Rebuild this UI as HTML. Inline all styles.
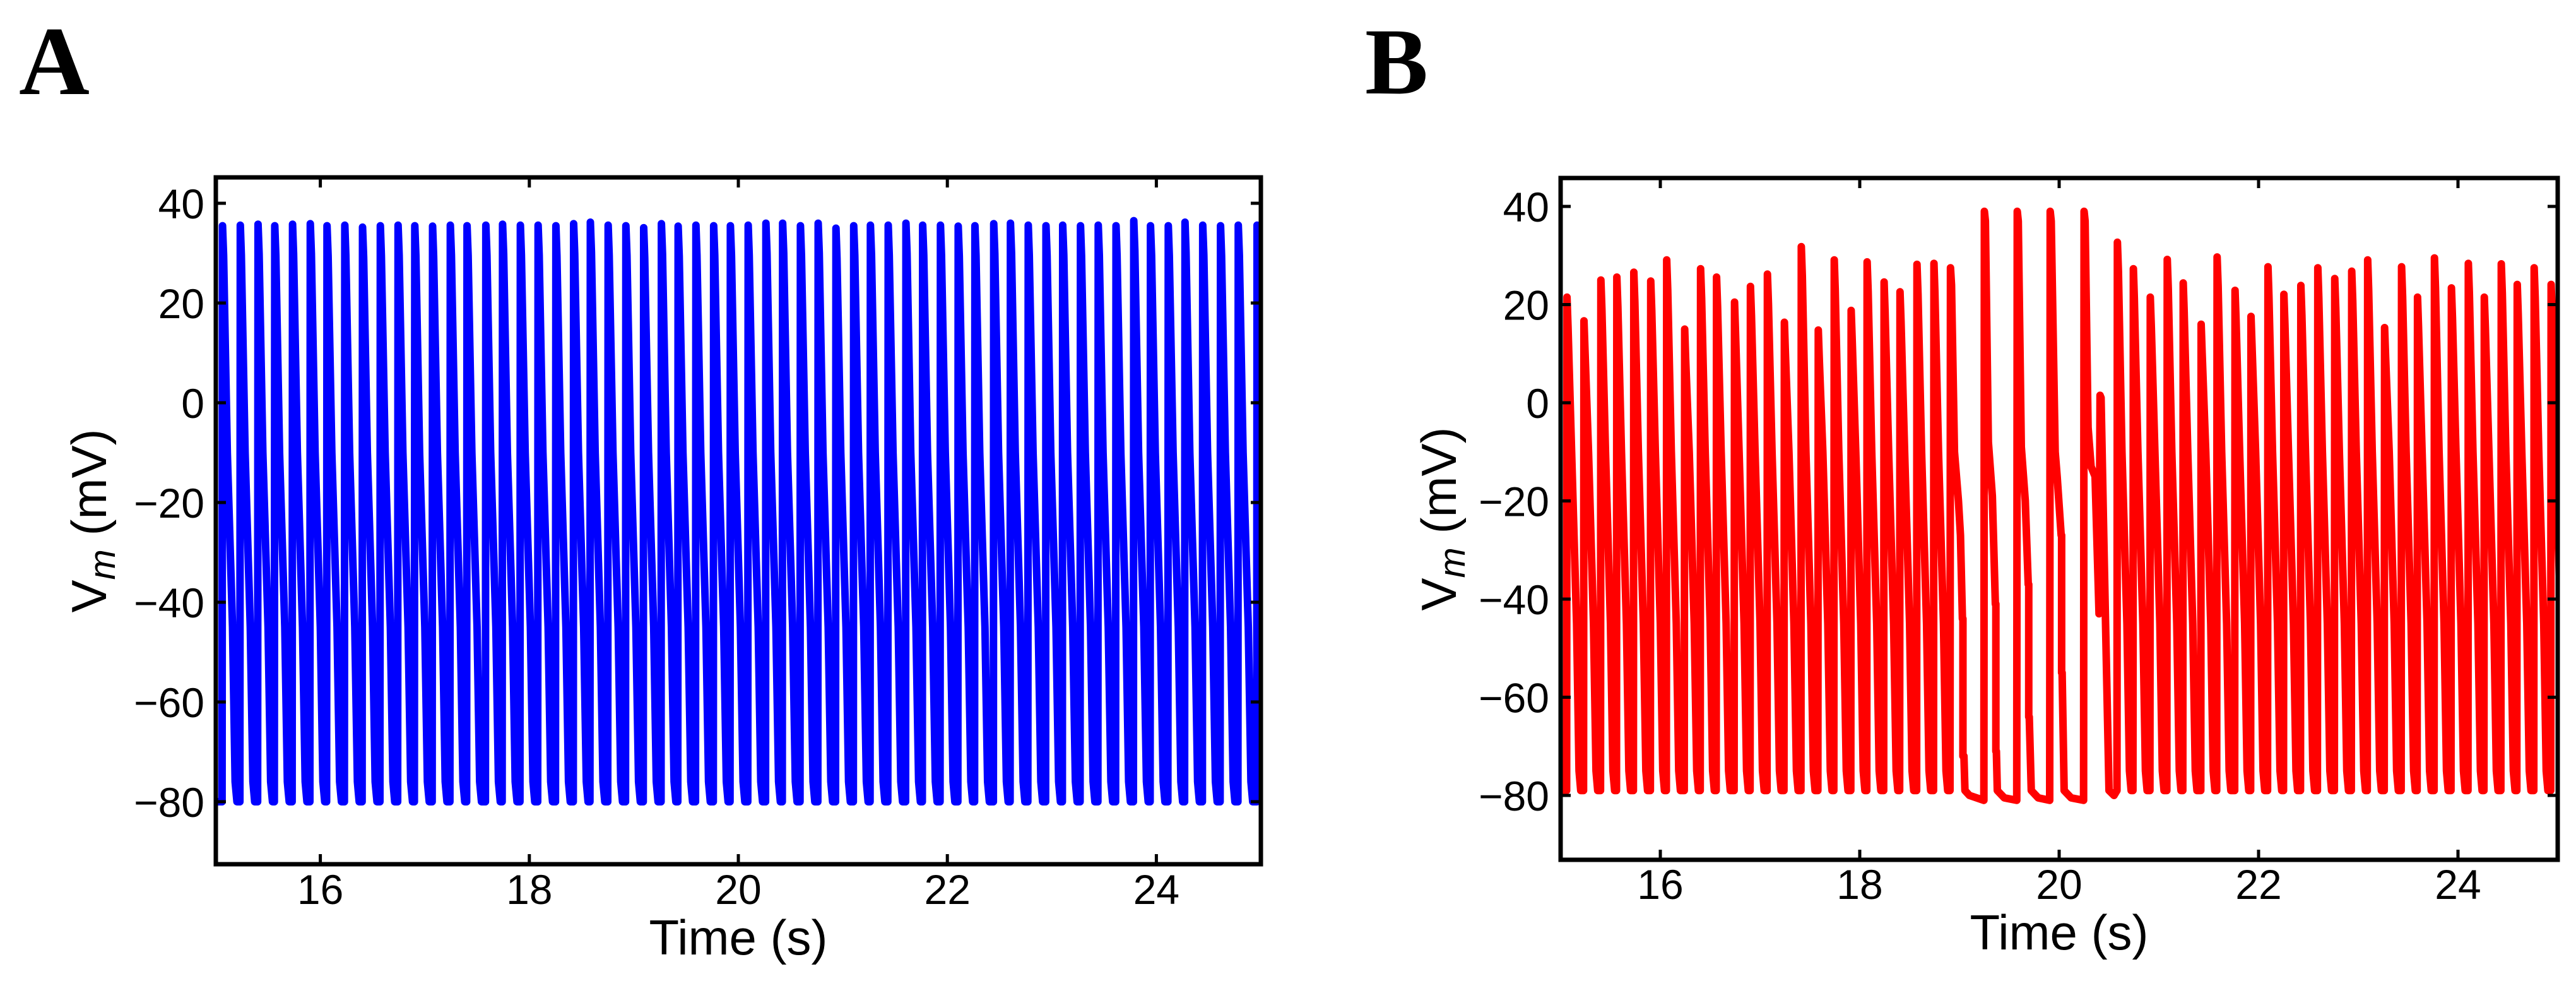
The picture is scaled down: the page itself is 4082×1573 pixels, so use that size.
<!DOCTYPE html>
<html><head><meta charset="utf-8"><style>
html,body{margin:0;padding:0;background:#fff;}
svg{display:block;}
text{font-family:"Liberation Sans","DejaVu Sans",sans-serif;fill:#000;}
</style></head><body>
<svg id="fig" width="4082" height="1573" viewBox="0 0 4082 1573" xmlns="http://www.w3.org/2000/svg">
<text x="30" y="149" style="font-family:'Liberation Serif',serif;font-weight:bold;font-size:155px">A</text>
<text x="2163" y="148" style="font-family:'Liberation Serif',serif;font-weight:bold;font-size:150px">B</text>
<g id="panelA"></g>
<g id="panelB"></g>
</svg>
<script>
// ---- data ----
const xTicks = [16, 18, 20, 22, 24];
const yTicks = [40, 20, 0, -20, -40, -60, -80];
const yTickLabels = ["40", "20", "0", "\u221220", "\u221240", "\u221260", "\u221280"];
const xTickLabels = ["16", "18", "20", "22", "24"];

const spikeTimesA = [15.06,15.23,15.40,15.56,15.73,15.90,16.06,16.23,16.40,16.57,16.74,16.90,17.07,17.24,17.40,17.58,17.74,17.91,18.08,18.25,18.42,18.58,18.75,18.92,19.09,19.26,19.42,19.59,19.76,19.92,20.09,20.26,20.42,20.59,20.76,20.93,21.10,21.26,21.43,21.60,21.76,21.93,22.10,22.26,22.44,22.60,22.77,22.94,23.10,23.27,23.44,23.61,23.78,23.94,24.11,24.27,24.44,24.61,24.78,24.96];
const peaksA = [35.5,35.6,35.8,35.5,35.8,35.9,35.5,35.6,35.2,35.5,35.6,35.5,35.4,35.6,35.5,35.6,35.8,35.6,35.6,35.5,35.9,36.2,35.6,35.5,35.1,35.9,35.4,35.6,35.5,35.5,35.6,36.0,36.0,35.5,36.0,35.0,35.5,35.6,35.6,36.0,35.6,35.6,35.4,35.5,35.9,36.0,35.6,35.5,35.6,35.5,35.6,35.5,36.5,35.5,35.5,36.2,35.6,35.5,35.6,35.6];
const restA = -80;

const spikeTimesB = [15.06,15.23,15.40,15.56,15.73,15.90,16.06,16.24,16.40,16.56,16.74,16.90,17.07,17.24,17.41,17.58,17.74,17.91,18.07,18.24,18.40,18.57,18.74,20.58,20.74,20.91,21.08,21.24,21.42,21.58,21.76,21.92,22.09,22.25,22.42,22.59,22.76,22.93,23.09,23.26,23.43,23.59,23.76,23.93,24.10,24.26,24.43,24.59,24.76,24.93];
const peaksB = [21.5,16.7,25.0,25.6,26.6,24.8,29.1,15.0,27.3,25.6,20.5,23.7,26.2,16.4,31.8,14.8,29.1,18.8,28.7,24.6,22.6,28.2,28.4,32.7,27.3,21.5,29.2,24.4,16.0,29.7,22.9,17.6,27.7,22.1,23.9,27.5,25.3,26.8,29.1,15.3,27.7,21.5,29.5,23.4,28.4,21.5,28.3,24.1,27.5,24.1];
const restB = -79;
// irregular burst segment (18.9 s – 20.55 s), read point-by-point
const burstT = [18.905,18.91,18.92,18.95,18.99,19.01,19.03,19.035,19.035,19.045,19.055,19.10,19.245,19.25,19.26,19.29,19.33,19.36,19.365,19.365,19.37,19.38,19.45,19.575,19.58,19.59,19.62,19.66,19.69,19.695,19.695,19.70,19.72,19.79,19.905,19.91,19.92,19.96,19.98,20.02,20.025,20.025,20.03,20.05,20.12,20.245,20.25,20.26,20.29,20.32,20.36,20.40,20.41,20.42,20.45,20.50,20.55];
const burstV = [-79,27.5,24,-10,-20,-27,-44,-44,-72,-72,-79,-80,-81,39,37,-8,-19,-41,-41,-71,-71,-79,-80.5,-81,39,37,-9,-20,-37,-37,-64,-64,-79,-80.5,-81,39,37,-10,-15,-27,-27,-55,-55,-79,-80.5,-81,39,37,-5,-13,-15,-43,1.5,1,-30,-79,-80];

const NS = "http://www.w3.org/2000/svg";
function mk(tag, attrs, parent){ const e=document.createElementNS(NS,tag); for(const k in attrs) e.setAttribute(k,attrs[k]); parent.appendChild(e); return e; }

function spikePts(t0, peak, rest){
  return [[t0,rest],[t0+0.004,peak],[t0+0.014,peak-6],[t0+0.05,-10],[t0+0.10,-45],[t0+0.125,rest+4],[t0+0.142,rest]];
}

function drawPanel(g, cfg){
  const X = t => cfg.left + (t - 15) / 10 * (cfg.right - cfg.left);
  const Y = v => cfg.y40 + (40 - v) / 120 * (cfg.ym80 - cfg.y40);
  const clipId = "clip" + cfg.id;
  const defs = mk("defs", {}, g);
  const cp = mk("clipPath", {id: clipId}, defs);
  mk("rect", {x: cfg.left, y: cfg.top, width: cfg.right - cfg.left, height: cfg.bottom - cfg.top}, cp);
  let pts = [];
  cfg.segments.forEach(seg => pts = pts.concat(seg));
  const d = pts.map((p,i) => (i ? "L" : "M") + X(p[0]).toFixed(1) + "," + Y(p[1]).toFixed(1)).join("");
  const path = mk("path", {d: d, fill: "none", stroke: cfg.color, "stroke-width": cfg.lw, "stroke-linejoin": "round", "stroke-linecap": "round", "clip-path": "url(#" + clipId + ")"}, g);
  
  
  const fr = mk("rect", {x: cfg.left, y: cfg.top, width: cfg.right - cfg.left, height: cfg.bottom - cfg.top, fill: "none", stroke: "#000", "stroke-width": 7}, g);
  
  
  xTicks.forEach((t,i) => {
    const x = X(t);
    mk("line", {x1: x, x2: x, y1: cfg.bottom, y2: cfg.bottom - 16, stroke: "#000", "stroke-width": 5}, g);
    mk("line", {x1: x, x2: x, y1: cfg.top, y2: cfg.top + 16, stroke: "#000", "stroke-width": 5}, g);
    const tx = mk("text", {x: x, y: cfg.xLabBase, "text-anchor": "middle", "font-size": 66}, g);
    tx.textContent = xTickLabels[i];
    
    
  });
  yTicks.forEach((v,i) => {
    const y = Y(v);
    mk("line", {x1: cfg.left, x2: cfg.left + 16, y1: y, y2: y, stroke: "#000", "stroke-width": 5}, g);
    mk("line", {x1: cfg.right, x2: cfg.right - 16, y1: y, y2: y, stroke: "#000", "stroke-width": 5}, g);
    const tx = mk("text", {x: cfg.left - 18, y: y + 24, "text-anchor": "end", "font-size": 66}, g);
    tx.textContent = yTickLabels[i];
    
    
  });
  const xt = mk("text", {x: (cfg.left + cfg.right) / 2, y: cfg.xTitleBase, "text-anchor": "middle", "font-size": 78}, g);
  xt.textContent = "Time (s)";
  
  
  const cy = (cfg.top + cfg.bottom) / 2;
  const yt = mk("text", {x: 0, y: 0, "text-anchor": "middle", "font-size": 78, transform: "translate(" + (cfg.yTitleX) + "," + cy + ") rotate(-90)"}, g);
  
  
  const t1 = mk("tspan", {}, yt); t1.textContent = "V";
  const t2 = mk("tspan", {"font-style": "italic", "font-size": 58, dy: 14}, yt); t2.textContent = "m";
  const t3 = mk("tspan", {dy: -14}, yt); t3.textContent = " (mV)";
}

let segA = [[[14.9, restA]]];
spikeTimesA.forEach((t,i) => segA.push(spikePts(t, peaksA[i], restA)));
segA.push([[25.2, restA]]);
drawPanel(document.getElementById("panelA"), {
  id: "A", left: 342, right: 1998, top: 281, bottom: 1369, y40: 322, ym80: 1270,
  color: "#0000ff", lw: 12, xLabBase: 1432, xTitleBase: 1512, yTitleX: 168, segments: segA
});

let segB = [[[14.9, restB]]];
let burstDone = false;
spikeTimesB.forEach((t,i) => {
  if (t > 20.5 && !burstDone) {
    segB.push(burstT.map((bt,j) => [bt, burstV[j]]));
    burstDone = true;
  }
  segB.push(spikePts(t, peaksB[i], restB));
});
segB.push([[25.2, restB]]);
drawPanel(document.getElementById("panelB"), {
  id: "B", left: 2473, right: 4053, top: 282, bottom: 1362, y40: 327, ym80: 1260,
  color: "#ff0000", lw: 12, xLabBase: 1424, xTitleBase: 1504, yTitleX: 2307, segments: segB
});
</script>
</body></html>
